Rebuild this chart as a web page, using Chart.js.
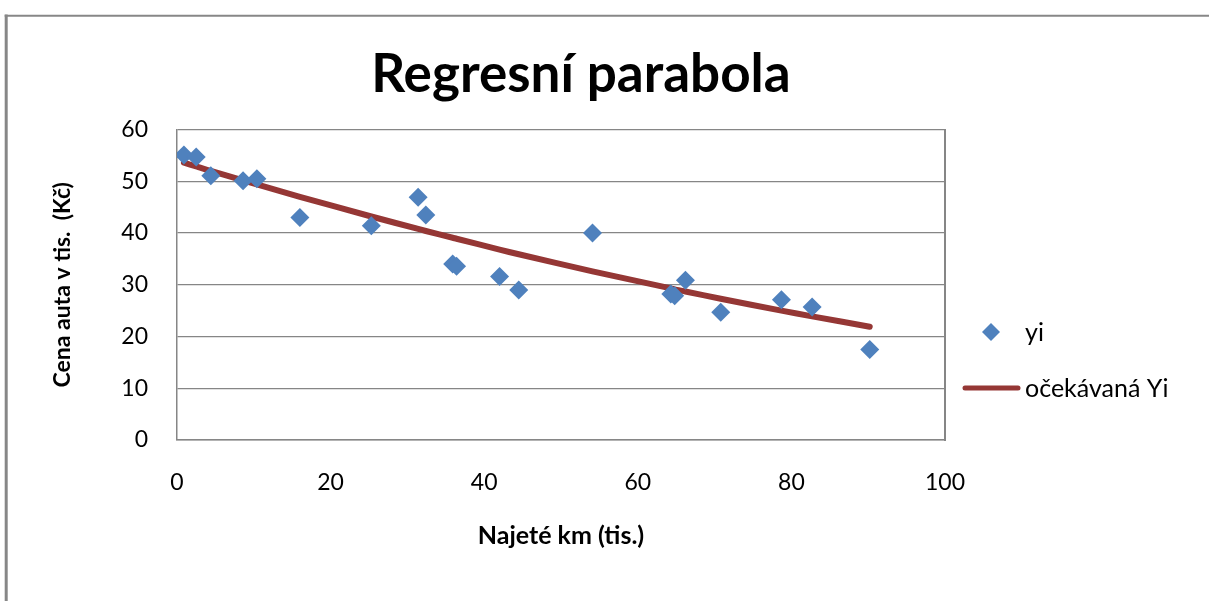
<!DOCTYPE html>
<html><head><meta charset="utf-8">
<script src="https://cdn.jsdelivr.net/npm/chart.js@4.4.0/dist/chart.umd.min.js"></script>
<style>html,body{margin:0;padding:0;background:#fff}#wrap{position:relative;width:1209px;height:601px}</style>
</head><body><div id="wrap"><canvas id="c"></canvas></div>
<script>
const chartTitle = 'Regresní parabola';
const xTitle = 'Najeté km (tis.)';
const yTitle = 'Cena auta v tis.  (Kč)';
const seriesNames = ['yi', 'očekávaná Yi'];
const kmX = [0.9, 2.5, 4.4, 8.6, 10.4, 16.0, 25.3, 31.4, 32.4, 35.9, 36.4, 42.0, 44.5, 54.1, 64.3, 64.8, 66.2, 70.8, 78.7, 82.7, 90.2];
const priceY = [55.1, 54.7, 51.1, 50.1, 50.5, 43.0, 41.4, 46.9, 43.5, 34.0, 33.6, 31.6, 29.0, 40.0, 28.2, 27.9, 30.9, 24.7, 27.1, 25.7, 17.5];
const expectedY = [53.6, 52.9, 52.0, 50.2, 49.4, 47.0, 43.2, 40.8, 40.4, 39.1, 38.9, 36.8, 35.9, 32.6, 29.3, 29.1, 28.7, 27.3, 25.0, 23.9, 21.9];
const xTicks = [0, 20, 40, 60, 80, 100];
const yTicks = [0, 10, 20, 30, 40, 50, 60];

const BLUE = '#4F81BD';
const RED = '#953735';
const GRID = '#868686';
const FONT = 'Lato';

const frame = {
  id: 'frame',
  beforeDraw(chart) {
    const ctx = chart.ctx;
    ctx.save();
    ctx.strokeStyle = '#878787';
    ctx.lineWidth = 3;
    ctx.beginPath(); ctx.moveTo(6.2, 601); ctx.lineTo(6.2, 14.5); ctx.stroke();
    ctx.lineWidth = 2;
    ctx.beginPath(); ctx.moveTo(4.7, 15.8); ctx.lineTo(1209, 15.8); ctx.stroke();
    ctx.restore();
  }
};

const customLegend = {
  id: 'customLegend',
  afterDraw(chart) {
    const ctx = chart.ctx;
    const ds0 = chart.data.datasets[0], ds1 = chart.data.datasets[1];
    ctx.save();
    ctx.fillStyle = ds0.backgroundColor;
    ctx.beginPath();
    ctx.moveTo(991, 323); ctx.lineTo(1000, 332); ctx.lineTo(991, 341); ctx.lineTo(982, 332); ctx.closePath();
    ctx.fill();
    ctx.strokeStyle = ds1.borderColor;
    ctx.lineWidth = 5;
    ctx.lineCap = 'round';
    ctx.beginPath(); ctx.moveTo(965, 388); ctx.lineTo(1018, 388); ctx.stroke();
    ctx.fillStyle = '#000';
    ctx.textBaseline = 'middle';
    ctx.font = '25px ' + FONT;
    ctx.fillText(ds0.label, 1025, 333);
    ctx.fillText(ds1.label, 1025, 389);
    ctx.restore();
  }
};

new Chart(document.getElementById('c'), {
  data: {
    datasets: [
      {
        type: 'scatter',
        label: seriesNames[0],
        data: kmX.map((x, i) => ({x: x, y: priceY[i]})),
        backgroundColor: BLUE,
        borderColor: BLUE,
        pointStyle: 'rectRot',
        pointRadius: 9.5,
        borderWidth: 0
      },
      {
        type: 'line',
        label: seriesNames[1],
        data: kmX.map((x, i) => ({x: x, y: expectedY[i]})),
        borderColor: RED,
        backgroundColor: RED,
        borderWidth: 6,
        pointRadius: 0,
        tension: 0.2,
        fill: false,
        borderCapStyle: 'round'
      }
    ]
  },
  options: {
    responsive: true,
    maintainAspectRatio: false,
    animation: false,
    layout: {padding: {left: 0, right: 47, top: 0, bottom: 0}},
    plugins: {
      legend: {display: false},
      tooltip: {enabled: false},
      title: {
        display: true,
        text: chartTitle,
        color: '#000',
        font: {family: FONT, size: 53, weight: 'bold'},
        padding: {top: 43, bottom: 23}
      }
    },
    scales: {
      x: {
        type: 'linear',
        position: 'bottom',
        min: xTicks[0], max: xTicks[xTicks.length - 1],
        afterBuildTicks: s => { s.ticks = xTicks.map(v => ({value: v})); },
        grid: {display: false, drawTicks: false},
        border: {display: true, color: GRID, width: 1.5},
        ticks: {color: '#000', font: {family: FONT, size: 23}, padding: 29, maxRotation: 0},
        title: {display: true, text: xTitle, color: '#000', font: {family: FONT, size: 25, weight: 'bold'}, padding: {top: 0, bottom: 50}},
        afterFit: s => { s.height = 161; }
      },
      y: {
        type: 'linear',
        position: 'left',
        min: yTicks[0], max: yTicks[yTicks.length - 1],
        afterBuildTicks: s => { s.ticks = yTicks.map(v => ({value: v})); },
        grid: {display: true, color: GRID, lineWidth: 1.3, drawTicks: false},
        border: {display: true, color: GRID, width: 1.5},
        ticks: {color: '#000', font: {family: FONT, size: 23}, padding: 29},
        title: {display: true, text: yTitle, color: '#000', font: {family: FONT, size: 23, weight: 'bold'}, padding: {top: 49, bottom: 0}},
        afterFit: s => { s.width = 177; }
      },
      side: {
        type: 'linear',
        position: 'right',
        display: true,
        grid: {display: false, drawTicks: false},
        border: {display: true, color: GRID, width: 2},
        ticks: {display: false},
        afterFit: s => { s.width = 217; }
      }
    }
  },
  plugins: [frame, customLegend]
});
</script>
</body></html>
